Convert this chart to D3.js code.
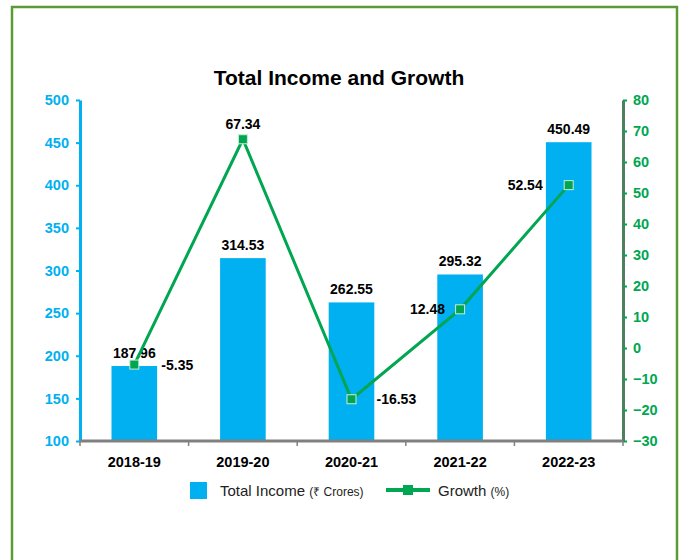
<!DOCTYPE html>
<html>
<head>
<meta charset="utf-8">
<script src="https://cdn.jsdelivr.net/npm/d3@7"></script>
<style>
  body { margin: 0; background: #fff; }
  svg { font-family: "Liberation Sans", Arial, sans-serif; }
</style>
</head>
<body>
<div id="chart"></div>
<script>
var years = ["2018-19", "2019-20", "2020-21", "2021-22", "2022-23"];
var income = [187.96, 314.53, 262.55, 295.32, 450.49];
var growth = [-5.35, 67.34, -16.53, 12.48, 52.54];
var income_ticks = [100, 150, 200, 250, 300, 350, 400, 450, 500];
var growth_ticks = [-30, -20, -10, 0, 10, 20, 30, 40, 50, 60, 70, 80];
// where each growth label sits: r = right, t = top, l = left
var growth_label_pos = ["r", "t", "r", "l", "l"];
var growth_label_dx = [27, 0, 25, -15, -26];

var width = 686,
    height = 560,
    left = 80,
    right = 623,
    top_y = 100,
    bottom_y = 441,
    blue = "#00b0f0",
    green = "#00a651";

var svg = d3.select("#chart").append("svg")
    .attr("width", width)
    .attr("height", height);

// frame
svg.append("rect")
    .attr("x", 12).attr("y", 7)
    .attr("width", 665).attr("height", 570)
    .attr("fill", "none")
    .attr("stroke", "#5b9a35")
    .attr("stroke-width", 2.5);

svg.append("text")
    .attr("x", 339).attr("y", 85)
    .attr("text-anchor", "middle")
    .attr("font-size", "21px")
    .attr("font-weight", "bold")
    .text("Total Income and Growth");

var x = d3.scaleBand().domain(years).range([left, right]).paddingInner(0.58).paddingOuter(0.29);
var y = d3.scaleLinear().domain([100, 500]).range([bottom_y, top_y]);
var y2 = d3.scaleLinear().domain([-30, 80]).range([bottom_y, top_y]);

// bars
svg.selectAll(".bar").data(income).enter().append("rect")
    .attr("class", "bar")
    .attr("x", function (d, i) { return x(years[i]); })
    .attr("y", function (d) { return y(d); })
    .attr("width", x.bandwidth())
    .attr("height", function (d) { return bottom_y - y(d); })
    .attr("fill", blue);

svg.selectAll(".barlabel").data(income).enter().append("text")
    .attr("x", function (d, i) { return x(years[i]) + x.bandwidth() / 2; })
    .attr("y", function (d) { return y(d) - 8; })
    .attr("text-anchor", "middle")
    .attr("font-size", "14px")
    .attr("font-weight", "bold")
    .text(function (d) { return d.toFixed(2); });

// left axis
var gl = svg.append("g").attr("transform", "translate(" + left + ",0)")
    .call(d3.axisLeft(y).tickValues(income_ticks).tickSize(4).tickSizeOuter(0));
gl.select(".domain").attr("stroke", blue).attr("stroke-width", 3);
gl.selectAll(".tick line").attr("stroke", blue).attr("stroke-width", 2);
gl.selectAll(".tick text").attr("fill", blue).attr("font-size", "14.5px")
    .attr("font-weight", "bold").attr("font-family", "Liberation Sans, Arial, sans-serif").attr("x", -11);

// right axis
var gr = svg.append("g").attr("transform", "translate(" + right + ",0)")
    .call(d3.axisRight(y2).tickValues(growth_ticks).tickSize(4).tickSizeOuter(0));
gr.select(".domain").attr("stroke", "#4e7f5e").attr("stroke-width", 3);
gr.selectAll(".tick line").attr("stroke", green).attr("stroke-width", 2);
gr.selectAll(".tick text").attr("fill", green).attr("font-size", "14.5px")
    .attr("font-weight", "bold").attr("font-family", "Liberation Sans, Arial, sans-serif").attr("x", 10);

// bottom axis
var step = x.step();
var gb = svg.append("g");
gb.append("line")
    .attr("x1", left).attr("x2", right)
    .attr("y1", bottom_y).attr("y2", bottom_y)
    .attr("stroke", "#808080").attr("stroke-width", 3);
gb.selectAll(".xtick").data(d3.range(years.length + 1)).enter().append("line")
    .attr("x1", function (i) { return left + i * step; })
    .attr("x2", function (i) { return left + i * step; })
    .attr("y1", bottom_y).attr("y2", bottom_y + 5)
    .attr("stroke", "#808080").attr("stroke-width", 1.5);
gb.selectAll(".xlabel").data(years).enter().append("text")
    .attr("x", function (d) { return x(d) + x.bandwidth() / 2; })
    .attr("y", bottom_y + 26)
    .attr("text-anchor", "middle")
    .attr("font-size", "14.5px")
    .attr("font-weight", "bold")
    .text(function (d) { return d; });

// growth line
var cx = function (d, i) { return x(years[i]) + x.bandwidth() / 2; };
var line = d3.line().x(cx).y(function (d) { return y2(d); });
svg.append("path").datum(growth)
    .attr("d", line)
    .attr("fill", "none")
    .attr("stroke", green)
    .attr("stroke-width", 3);

svg.selectAll(".pt").data(growth).enter().append("rect")
    .attr("x", function (d, i) { return cx(d, i) - 4.5; })
    .attr("y", function (d) { return y2(d) - 4.5; })
    .attr("width", 9).attr("height", 9)
    .attr("fill", green)
    .attr("stroke", "#c8ecd4")
    .attr("stroke-width", 1);

svg.selectAll(".glabel").data(growth).enter().append("text")
    .attr("x", function (d, i) { return cx(d, i) + growth_label_dx[i]; })
    .attr("y", function (d, i) {
        return growth_label_pos[i] === "t" ? y2(d) - 10 : y2(d) + 5;
    })
    .attr("text-anchor", function (d, i) {
        var p = growth_label_pos[i];
        return p === "r" ? "start" : p === "l" ? "end" : "middle";
    })
    .attr("font-size", "14px")
    .attr("font-weight", "bold")
    .text(function (d) { return d.toFixed(2); });

// legend
var lg = svg.append("g");
lg.append("rect").attr("x", 190).attr("y", 482).attr("width", 17).attr("height", 17).attr("fill", blue);
var t1 = lg.append("text").attr("x", 220).attr("y", 496).attr("font-size", "15px").attr("fill", "#222");
t1.append("tspan").text("Total Income ");
t1.append("tspan").attr("font-size", "12px").text("(₹ Crores)");
lg.append("line").attr("x1", 386).attr("x2", 430).attr("y1", 490).attr("y2", 490)
    .attr("stroke", green).attr("stroke-width", 4);
lg.append("rect").attr("x", 403).attr("y", 485).attr("width", 10).attr("height", 10).attr("fill", green);
var t2 = lg.append("text").attr("x", 438).attr("y", 496).attr("font-size", "15px").attr("fill", "#222");
t2.append("tspan").text("Growth  ");
t2.append("tspan").attr("font-size", "12px").text("(%)");
</script>
</body>
</html>
